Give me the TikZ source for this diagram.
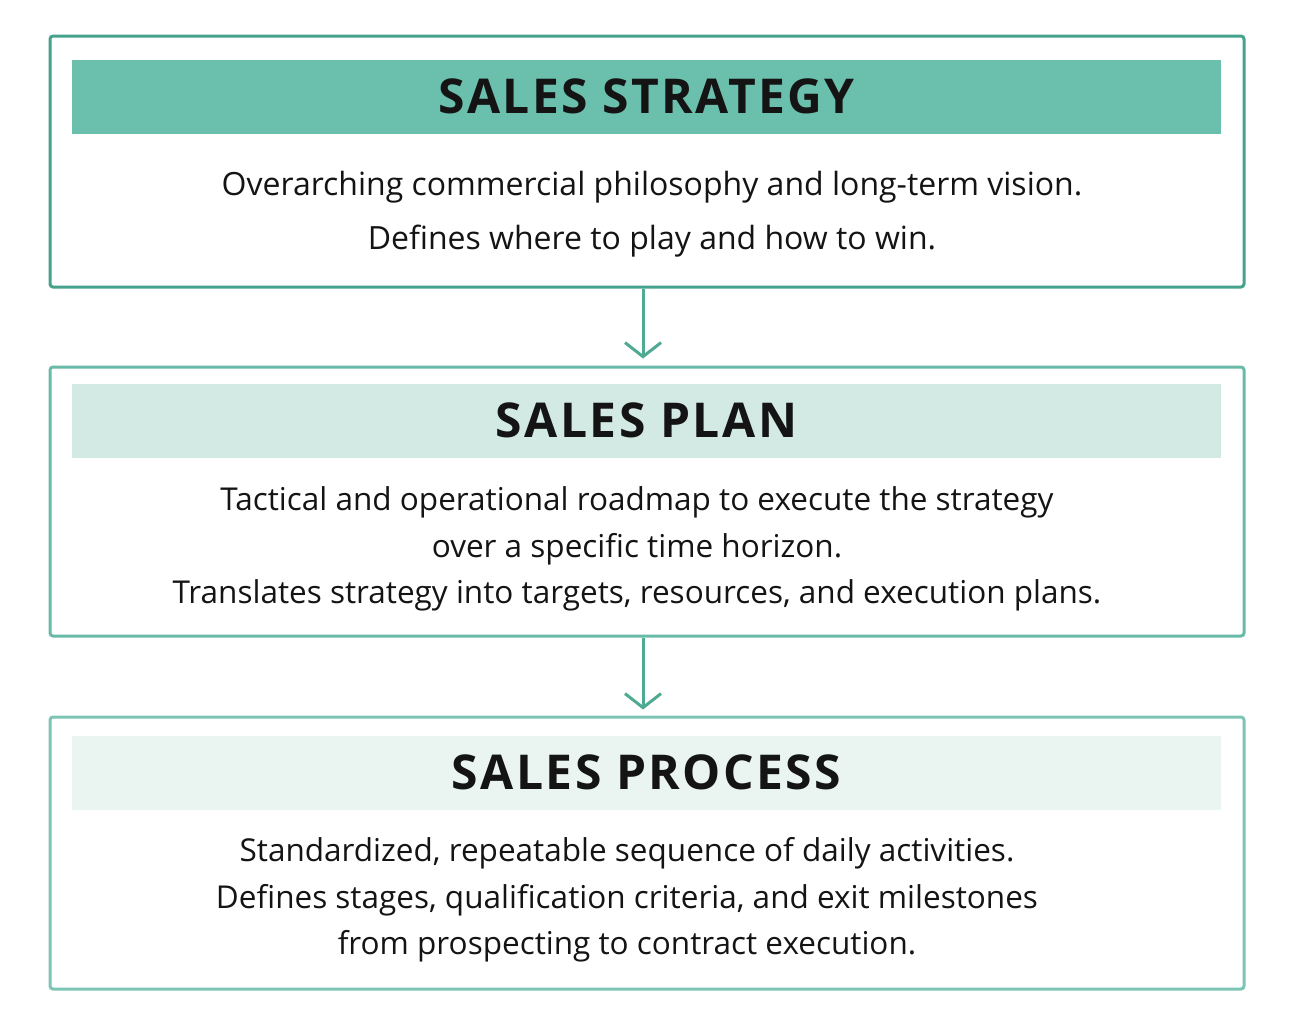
\documentclass[tikz,border=0pt]{standalone}
\usepackage{fontspec}
\setmainfont{Open Sans}
\newfontfamily\titlefont[LetterSpace=5]{Open Sans Bold}
\usetikzlibrary{arrows.meta}
\definecolor{edgeA}{HTML}{45A38D}
\definecolor{edgeB}{HTML}{68BBA8}
\definecolor{edgeC}{HTML}{7CC5B5}
\definecolor{headA}{HTML}{6BBFAD}
\definecolor{headB}{HTML}{D3E9E4}
\definecolor{headC}{HTML}{EAF5F2}
\definecolor{arrowcol}{HTML}{4FAA94}
\definecolor{txt}{HTML}{141414}
\tikzset{
  panel/.style={draw=#1, line width=3pt, rounded corners=3pt, minimum width=1194pt, inner sep=0pt, fill=white},
  header/.style={fill=#1, minimum width=1149pt, minimum height=74pt, inner sep=0pt, font=\titlefont\fontsize{48}{54}\selectfont, text=txt},
  body/.style={align=center, text=txt, font=\fontsize{31.5}{46.5}\selectfont, inner sep=0pt},
  flow/.style={draw=arrowcol, line width=3pt, -{Straight Barb[length=14pt,width=36pt,line width=3pt]}}
}
\begin{document}
\begin{tikzpicture}[x=1pt,y=-1pt]
\useasboundingbox (0,0) rectangle (1294,1023);
\node[panel=edgeA, minimum height=251pt] (box1) at (647,161.5) {};
\node[header=headA] (head1) at (646.5,96.5) {SALES STRATEGY};
\node[body, font=\fontsize{32}{46}\selectfont] (text1) at (652,214) {Overarching commercial philosophy and long-term vision.\\[8pt] Defines where to play and how to win.};

\node[panel=edgeB, minimum height=269pt] (box2) at (647,501.5) {};
\node[header=headB] (head2) at (646.5,420.5) {SALES PLAN};
\node[body] (text2) at (637,549) {Tactical and operational roadmap to execute the strategy\\ over a specific time horizon.\\ Translates strategy into targets, resources, and execution plans.};

\node[panel=edgeC, minimum height=272pt] (box3) at (647,853) {};
\node[header=headC] (head3) at (646.5,772.5) {SALES PROCESS};
\node[body] (text3) at (627,900) {Standardized, repeatable sequence of daily activities.\\ Defines stages, qualification criteria, and exit milestones\\ from prospecting to contract execution.};

\draw[flow, shorten >=7pt] ([xshift=-4pt]box1.south) -- ([xshift=-4pt]box2.north);
\draw[flow, shorten >=6pt] ([xshift=-4pt]box2.south) -- ([xshift=-4pt]box3.north);
\end{tikzpicture}
\end{document}
